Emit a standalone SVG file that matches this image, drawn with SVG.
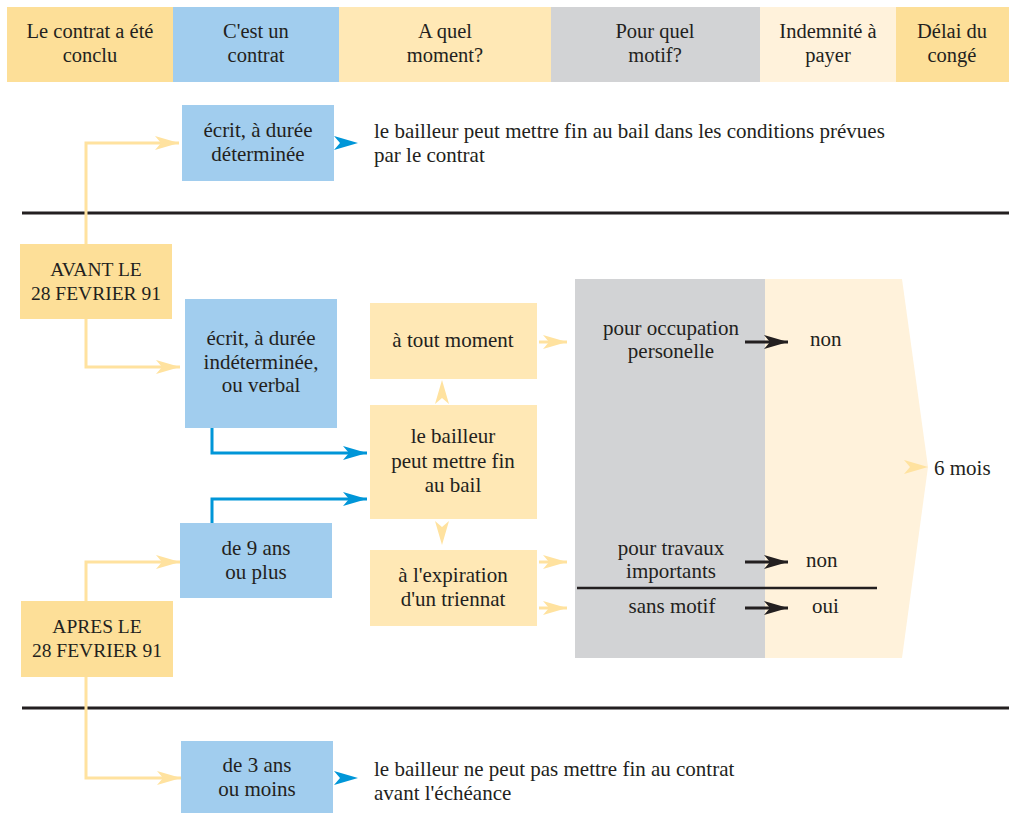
<svg xmlns="http://www.w3.org/2000/svg" width="1009" height="813" viewBox="0 0 1009 813">
  <style>
    text { font-family: "Liberation Serif", "Times New Roman", Times, "Noto Serif", "DejaVu Serif", serif; font-size: 21px; fill: #231F20; }
    .c { text-anchor: middle; }
    .hd { font-size: 20.5px; }
    .caps { font-size: 19.5px; }
    .orange { fill: #FDDF98; }
    .blue { fill: #A1CDEE; }
    .sand { fill: #FFE8B5; }
    .grey { fill: #D2D3D5; }
    .cream { fill: #FFF2DB; }
    .yl { fill: none; stroke: #FFE29F; stroke-width: 3; }
    .bl { fill: none; stroke: #0096D8; stroke-width: 3; }
    .kl { fill: none; stroke: #231F20; stroke-width: 3; }
    .rule { stroke: #231F20; stroke-width: 3; }
  </style>
  <defs>
    <path id="head" d="M-24,-7 L0,0 L-24,7 L-18,0 Z"/>
    <marker id="ay" markerUnits="userSpaceOnUse" markerWidth="26" markerHeight="16" viewBox="-25 -8 26 16" refX="0" refY="0" orient="auto">
      <use href="#head" fill="#FFE29F"/>
    </marker>
    <marker id="ab" markerUnits="userSpaceOnUse" markerWidth="26" markerHeight="16" viewBox="-25 -8 26 16" refX="0" refY="0" orient="auto">
      <use href="#head" fill="#0096D8"/>
    </marker>
    <marker id="ak" markerUnits="userSpaceOnUse" markerWidth="26" markerHeight="16" viewBox="-25 -8 26 16" refX="0" refY="0" orient="auto">
      <use href="#head" fill="#231F20"/>
    </marker>
  </defs>

  <!-- column headings -->
  <g id="header">
    <rect class="orange" x="7" y="7" width="166" height="75"/>
    <rect class="blue" x="173" y="7" width="166" height="75"/>
    <rect class="sand" x="339" y="7" width="212" height="75"/>
    <rect class="grey" x="551" y="7" width="209" height="75"/>
    <rect class="cream" x="760" y="7" width="136" height="75"/>
    <rect class="orange" x="896" y="7" width="113" height="75"/>
    <text class="c hd" x="90" y="38">Le contrat a été</text>
    <text class="c hd" x="90" y="62">conclu</text>
    <text class="c hd" x="256" y="38">C'est un</text>
    <text class="c hd" x="256" y="62">contrat</text>
    <text class="c hd" x="445" y="38">A quel</text>
    <text class="c hd" x="445" y="62">moment?</text>
    <text class="c hd" x="655" y="38">Pour quel</text>
    <text class="c hd" x="655" y="62">motif?</text>
    <text class="c hd" x="828" y="38">Indemnité à</text>
    <text class="c hd" x="828" y="62">payer</text>
    <text class="c hd" x="952" y="38">Délai du</text>
    <text class="c hd" x="952" y="62">congé</text>
  </g>

  <!-- section rules -->
  <g id="rules">
    <line class="rule" x1="22" y1="213" x2="1009" y2="213"/>
    <line class="rule" x1="22" y1="708" x2="1009" y2="708"/>
  </g>

  <!-- motive / notice panel -->
  <g id="panel">
    <rect class="grey" x="575" y="279" width="190" height="379"/>
    <polygon class="cream" points="765,279 902,279 928,467 902,658 765,658"/>
    <line x1="577" y1="588" x2="877" y2="588" stroke="#231F20" stroke-width="2.5"/>
  </g>

  <!-- connectors -->
  <g id="connectors">
    <polyline class="yl" points="86,244 86,143 179,143" marker-end="url(#ay)"/>
    <polyline class="yl" points="86,319 86,367 180,367" marker-end="url(#ay)"/>
    <polyline class="yl" points="86,601 86,562 180,562" marker-end="url(#ay)"/>
    <polyline class="yl" points="86,677 86,778 181,778" marker-end="url(#ay)"/>
    <polyline class="bl" points="212,428 212,453 367,453" marker-end="url(#ab)"/>
    <polyline class="bl" points="212,523 212,499 367,499" marker-end="url(#ab)"/>
    <line class="yl" x1="539" y1="342" x2="567" y2="342" marker-end="url(#ay)"/>
    <line class="yl" x1="539" y1="562" x2="567" y2="562" marker-end="url(#ay)"/>
    <line class="yl" x1="539" y1="608" x2="567" y2="608" marker-end="url(#ay)"/>
    <use href="#head" fill="#FFE29F" transform="translate(442,380) rotate(-90)"/>
    <use href="#head" fill="#FFE29F" transform="translate(442,545) rotate(90)"/>
    <use href="#head" fill="#0096D8" transform="translate(358,143)"/>
    <use href="#head" fill="#0096D8" transform="translate(358,778)"/>
    <use href="#head" fill="#FFE29F" transform="translate(928,467)"/>
    <line class="kl" x1="745" y1="342" x2="788" y2="342" marker-end="url(#ak)"/>
    <line class="kl" x1="745" y1="562" x2="788" y2="562" marker-end="url(#ak)"/>
    <line class="kl" x1="745" y1="608" x2="788" y2="608" marker-end="url(#ak)"/>
  </g>

  <g id="avant">
    <rect class="orange" x="20" y="244" width="152" height="75"/>
    <text class="c caps" x="96" y="276">AVANT LE</text>
    <text class="c caps" x="96" y="300">28 FEVRIER 91</text>
  </g>

  <g id="apres">
    <rect class="orange" x="21" y="601" width="152" height="76"/>
    <text class="c caps" x="97" y="633">APRES LE</text>
    <text class="c caps" x="97" y="657">28 FEVRIER 91</text>
  </g>

  <g id="duree-determinee">
    <rect class="blue" x="182" y="105" width="152" height="76"/>
    <text class="c" x="258" y="137">écrit, à durée</text>
    <text class="c" x="258" y="161">déterminée</text>
  </g>

  <g id="note-determinee">
    <text x="374" y="138">le bailleur peut mettre fin au bail dans les conditions prévues</text>
    <text x="374" y="162">par le contrat</text>
  </g>

  <g id="duree-indeterminee">
    <rect class="blue" x="185" y="299" width="152" height="129"/>
    <text class="c" x="261" y="345">écrit, à durée</text>
    <text class="c" x="261" y="369">indéterminée,</text>
    <text class="c" x="261" y="392">ou verbal</text>
  </g>

  <g id="neuf-ans">
    <rect class="blue" x="180" y="523" width="152" height="75"/>
    <text class="c" x="256" y="555">de 9 ans</text>
    <text class="c" x="256" y="579">ou plus</text>
  </g>

  <g id="trois-ans">
    <rect class="blue" x="181" y="741" width="152" height="72"/>
    <text class="c" x="257" y="772">de 3 ans</text>
    <text class="c" x="257" y="796">ou moins</text>
  </g>

  <g id="note-trois-ans">
    <text x="374" y="776">le bailleur ne peut pas mettre fin au contrat</text>
    <text x="374" y="800">avant l'échéance</text>
  </g>

  <g id="tout-moment">
    <rect class="sand" x="370" y="303" width="167" height="76"/>
    <text class="c" x="453" y="347">à tout moment</text>
  </g>

  <g id="bailleur">
    <rect class="sand" x="370" y="405" width="167" height="114"/>
    <text class="c" x="453" y="443">le bailleur</text>
    <text class="c" x="453" y="468">peut mettre fin</text>
    <text class="c" x="453" y="492">au bail</text>
  </g>

  <g id="triennat">
    <rect class="sand" x="370" y="550" width="167" height="76"/>
    <text class="c" x="453" y="582">à l'expiration</text>
    <text class="c" x="453" y="606">d'un triennat</text>
  </g>

  <g id="occupation">
    <text class="c" x="671" y="335">pour occupation</text>
    <text class="c" x="671" y="358">personelle</text>
    <text x="810" y="346">non</text>
  </g>

  <g id="travaux">
    <text class="c" x="671" y="555">pour travaux</text>
    <text class="c" x="671" y="578">importants</text>
    <text x="806" y="567">non</text>
  </g>

  <g id="sans-motif">
    <text class="c" x="672" y="613">sans motif</text>
    <text x="812" y="613">oui</text>
  </g>

  <g id="delai">
    <text x="934" y="475">6 mois</text>
  </g>
</svg>
